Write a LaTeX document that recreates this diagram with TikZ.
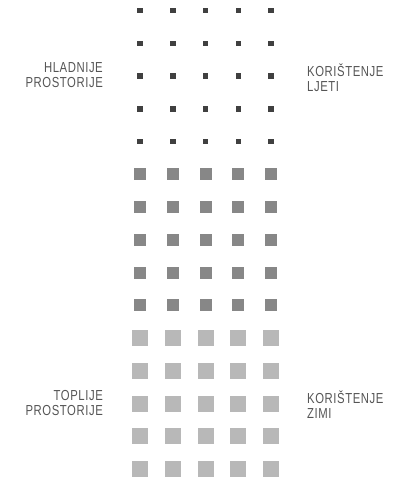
\documentclass[tikz,border=0pt]{standalone}
\usepackage{fontspec}
\setmainfont[FakeStretch=0.78, LetterSpace=4]{Liberation Sans}
\usetikzlibrary{positioning}
\definecolor{colddot}{HTML}{404040}
\definecolor{middot}{HTML}{878787}
\definecolor{warmdot}{HTML}{B8B8B8}
\definecolor{lblc}{HTML}{555555}

\begin{document}
\begin{tikzpicture}[x=1pt, y=-1pt,
      dot/.style={rectangle, inner sep=0pt, draw=none},
      cold/.style={dot, fill=colddot, minimum size=5.5pt},
      mid/.style={dot, fill=middot, minimum size=12pt},
      warm/.style={dot, fill=warmdot, minimum size=16pt},
      lbl/.style={inner sep=0pt, text=lblc, font=\fontsize{14.5}{15}\selectfont}]
    \useasboundingbox (0,0) rectangle (412,482);

    % grid of squares, five columns, fifteen rows
    \foreach \c [count=\i] in {140,172.8,205.6,238.4,271.2} {
      \foreach \r in {1,...,5}
        \node[cold] (s-\r-\i) at (\c,{10.7+32.75*(\r-1)}) {};
      \foreach \r in {6,...,10}
        \node[mid]  (s-\r-\i) at (\c,{10.7+32.75*(\r-1)}) {};
      \foreach \r in {11,...,15}
        \node[warm] (s-\r-\i) at (\c,{10.7+32.75*(\r-1)}) {};
    }

    \node[lbl, align=right, anchor=east] (cool) at (103,75)
      {HLADNIJE\\PROSTORIJE};
    \node[lbl, align=left, anchor=west]  (summer) at (307,78)
      {KORIŠTENJE\\LJETI};
    \node[lbl, align=right, anchor=east] (warmrm) at (103,403)
      {TOPLIJE\\PROSTORIJE};
    \node[lbl, align=left, anchor=west]  (winter) at (307,405)
      {KORIŠTENJE\\ZIMI};
  \end{tikzpicture}
\end{document}
